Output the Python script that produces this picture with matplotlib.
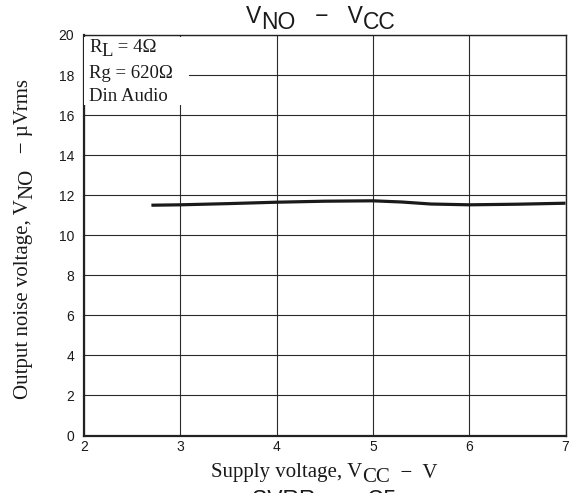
import numpy as np
import matplotlib
matplotlib.use("Agg")
import matplotlib.pyplot as plt
from matplotlib.patches import Rectangle

# curve (supply voltage V, noise uVrms)
vcc = [2.7, 3.0, 3.5, 4.0, 4.5, 5.0, 5.3, 5.6, 6.0, 6.5, 7.0]
vno = [11.50, 11.52, 11.58, 11.65, 11.70, 11.72, 11.66, 11.56, 11.52, 11.55, 11.60]

x_ticks = [2, 3, 4, 5, 6, 7]
y_ticks = [0, 2, 4, 6, 8, 10, 12, 14, 16, 18, 20]

W, H = 577, 493
SANS = "Liberation Sans"
SERIF = "Liberation Serif"


def px(x, y):
    """figure pixel (from top-left) -> figure fraction"""
    return x / W, 1 - y / H


def chain(ax, parts, xy, rotation=0, **kw):
    """Write text pieces one after another; each part is (text, shift_pt),
    shift < 0 lowers the piece like a full-size subscript."""
    txt, sh = parts[0]
    prev = ax.text(*xy, txt, transform=ax.figure.transFigure, rotation=rotation,
                   ha="left", va="bottom", **kw)
    last = sh
    for txt, sh in parts[1:]:
        d = sh - last
        if rotation == 90:
            at, off = (0, 1), (-d, 0)
        else:
            at, off = (1, 0), (0, d)
        prev = ax.annotate(txt, xy=at, xycoords=prev, xytext=off,
                           textcoords="offset points", rotation=rotation,
                           ha="left", va="bottom", annotation_clip=False, **kw)
        last = sh
    return prev


fig = plt.figure(figsize=(W / 100, H / 100), dpi=100)
ax = fig.add_axes([84 / W, 1 - 435.5 / H, 481.5 / W, 400.5 / H])

ax.plot(vcc, vno, color="#1a1a1a", linewidth=2.3, solid_capstyle="butt", zorder=4)

ax.set_xlim(2, 7)
ax.set_ylim(0, 20)
ax.set_xticks(x_ticks)
ax.set_yticks(y_ticks)
ax.tick_params(axis="y", length=0, pad=7, labelsize=10)
ax.tick_params(axis="x", length=0, pad=3, labelsize=10)
for lab in ax.get_xticklabels() + ax.get_yticklabels():
    lab.set_fontfamily(SANS)
    lab.set_color("#1a1a1a")
ax.grid(True, color="#2a2a2a", linewidth=0.8)
ax.set_axisbelow(True)
for side in ["left", "bottom"]:
    ax.spines[side].set_linewidth(1.6)
for side in ["top", "right"]:
    ax.spines[side].set_linewidth(1.0)
for sp in ax.spines.values():
    sp.set_color("#222222")

# condition box (white, hides the grid behind it)
ax.add_patch(Rectangle((2.0, 16.5), 1.09, 3.42, facecolor="white",
                       edgecolor="none", zorder=3))
box_kw = dict(family=SERIF, fontsize=13.5, color="#1a1a1a", zorder=5)
chain(ax, [("R", 0), ("L", -3), (" = 4Ω", 0)], px(89, 56), **box_kw)
ax.text(*px(89, 77.5), "Rg = 620Ω", transform=fig.transFigure, **box_kw)
ax.text(*px(89, 101), "Din Audio", transform=fig.transFigure, **box_kw)

# title
title_kw = dict(family=SANS, fontsize=16.5, color="#1a1a1a")
chain(ax, [("V", 0), ("NO", -4.3), ("   −   V", 0), ("CC", -4.3)], px(246, 28), **title_kw)

# axis labels
lab_kw = dict(family=SERIF, fontsize=15, color="#1a1a1a")
chain(ax, [("Supply voltage, V", 0), ("CC", -3.6), ("  −  V", 0)], px(211, 482.5), **lab_kw)
chain(ax, [("Output noise voltage, V", 0), ("NO", -3), ("   − µVrms", 0)],
      px(14, 399), rotation=90, **lab_kw)

# next chart's title, cut by the bottom edge
chain(ax, [("SVRR   −   C5", 0)], px(252, 512), **title_kw)

fig.savefig("out.png", dpi=100)
